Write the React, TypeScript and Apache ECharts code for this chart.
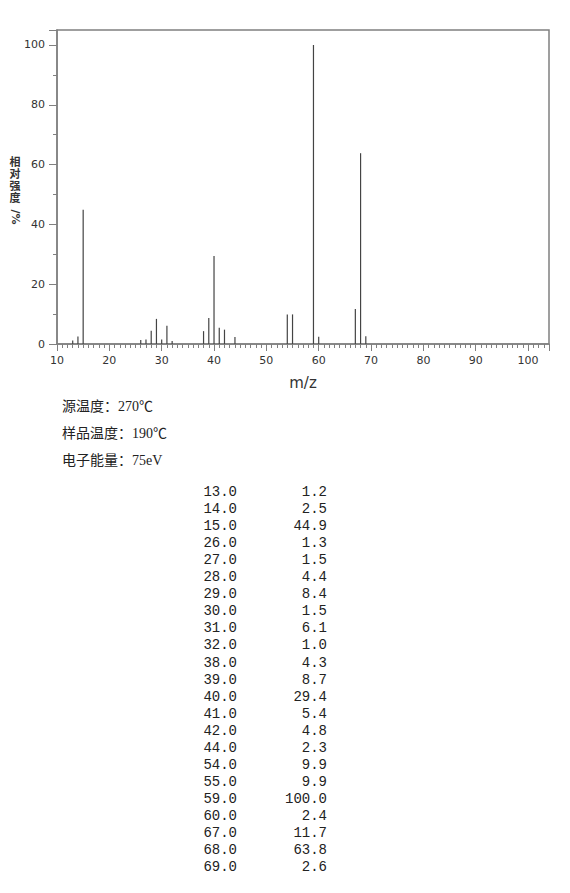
import React, { useEffect, useRef } from 'react';
import * as echarts from 'echarts';

const mzValues = [13, 14, 15, 26, 27, 28, 29, 30, 31, 32, 38, 39, 40, 41, 42, 44, 54, 55, 59, 60, 67, 68, 69];
const intensities = [1.2, 2.5, 44.9, 1.3, 1.5, 4.4, 8.4, 1.5, 6.1, 1.0, 4.3, 8.7, 29.4, 5.4, 4.8, 2.3, 9.9, 9.9, 100.0, 2.4, 11.7, 63.8, 2.6];
const infoLines = ['源温度：270℃', '样品温度：190℃', '电子能量：75eV'];
const yTitleChars = ['相', '对', '强', '度'];
const yTitleUnit = '/%';
const xTitle = 'm/z';

export default function App() {
  const ref = useRef<HTMLDivElement>(null);
  useEffect(() => {
    if (!ref.current) return;
    const chart = echarts.init(ref.current, null, { renderer: 'svg' });
    const axisColor = '#808080';
    const labelStyle = { color: '#333', fontFamily: 'DejaVu Sans', fontSize: 11 };
    const graphics: any[] = [];
    yTitleChars.forEach((c, i) => {
      graphics.push({
        type: 'text', x: 15, y: 161.5 + i * 12.3,
        style: { text: c, font: 'bold 11px "Liberation Sans", "Noto Sans CJK SC"', fill: '#333', align: 'center', verticalAlign: 'middle' },
      });
    });
    graphics.push({
      type: 'text', x: 15, y: 217, rotation: -Math.PI / 2,
      style: { text: yTitleUnit, font: 'bold 11px "DejaVu Sans"', fill: '#333', align: 'center', verticalAlign: 'middle' },
    });
    graphics.push({
      type: 'text', x: 303, y: 383,
      style: { text: xTitle, font: '15px "DejaVu Sans"', fill: '#333', align: 'center', verticalAlign: 'middle' },
    });
    infoLines.forEach((t, i) => {
      graphics.push({
        type: 'text', x: 62, y: 406.5 + i * 27,
        style: { text: t, font: '14px "Liberation Serif", "Noto Sans CJK SC"', fill: '#222', align: 'left', verticalAlign: 'middle' },
      });
    });
    mzValues.forEach((m, i) => {
      const y = 492 + i * 17.05;
      graphics.push({
        type: 'text', x: 237, y,
        style: { text: m.toFixed(1), font: '14px "Liberation Mono"', fill: '#222', align: 'right', verticalAlign: 'middle' },
      });
      graphics.push({
        type: 'text', x: 327, y,
        style: { text: intensities[i].toFixed(1), font: '14px "Liberation Mono"', fill: '#222', align: 'right', verticalAlign: 'middle' },
      });
    });

    chart.setOption({
      animation: false,
      backgroundColor: '#fff',
      grid: { left: 57, top: 30, width: 492, height: 314, show: true, borderColor: axisColor, borderWidth: 1.5, containLabel: false },
      xAxis: {
        type: 'value', min: 10, max: 104, interval: 10,
        axisLine: { show: true, lineStyle: { color: axisColor, width: 1.5 } },
        axisTick: { show: true, inside: false, length: 7, lineStyle: { color: axisColor } },
        minorTick: { show: true, splitNumber: 10, length: 4, lineStyle: { color: axisColor } },
        axisLabel: { ...labelStyle, margin: 11, showMaxLabel: false },
        splitLine: { show: false },
      },
      yAxis: {
        type: 'value', min: 0, max: 105, interval: 20,
        axisLine: { show: true, lineStyle: { color: axisColor, width: 1.5 } },
        axisTick: { show: true, inside: false, length: 8, lineStyle: { color: axisColor } },
        minorTick: { show: true, splitNumber: 2, length: 4, lineStyle: { color: axisColor } },
        axisLabel: { ...labelStyle, margin: 12, showMaxLabel: false },
        splitLine: { show: false },
      },
      series: [{
        type: 'bar',
        data: mzValues.map((m, i) => [m, intensities[i]]),
        barWidth: 1.2,
        itemStyle: { color: '#444' },
      }],
      graphic: graphics,
    });
    return () => chart.dispose();
  }, []);
  return <div ref={ref} style={{ position: 'absolute', left: 0, top: 0, width: 570, height: 893 }} />;
}
